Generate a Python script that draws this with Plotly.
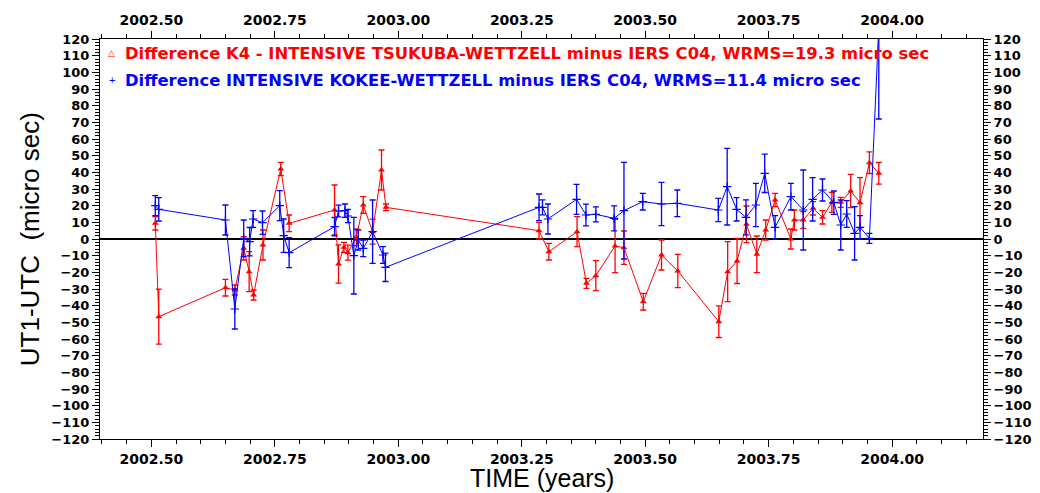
import plotly.graph_objects as go

# ---- data: K4 TSUKUBA-WETTZELL (red) ----
red_t = [2002.508, 2002.515, 2002.650, 2002.669, 2002.687, 2002.698, 2002.707, 2002.726,
         2002.762, 2002.779, 2002.871, 2002.879, 2002.890, 2002.898, 2002.915, 2002.929,
         2002.948, 2002.966, 2002.975, 2003.285, 2003.305, 2003.362, 2003.381, 2003.400,
         2003.439, 2003.457, 2003.496, 2003.533, 2003.566, 2003.649, 2003.667, 2003.686,
         2003.705, 2003.726, 2003.744, 2003.763, 2003.795, 2003.802, 2003.820, 2003.840,
         2003.859, 2003.878, 2003.896, 2003.916, 2003.935, 2003.954, 2003.973]
red_v = [9.4, -46.6, -29.2, -30.6, -5.6, -19.6, -33.6, -3.6,
         42.0, 9.4, 17.4, -15.0, -5.0, -8.2, 1.0, 20.4,
         4.4, 41.4, 19.0, 5.0, -7.6, 4.4, -26.6, -22.0,
         -4.2, -5.2, -37.6, -9.6, -19.2, -49.6, -19.6, -13.2,
         8.8, -9.2, 5.4, 23.4, 0.0, 11.4, 11.4, 18.4,
         13.0, 22.0, 22.0, 28.8, 21.8, 45.8, 39.4]
red_e = [4, 16.5, 5, 3, 7, 12, 3, 9,
         4, 5, 15, 11.5, 3, 4.5, 5, 5,
         7.5, 12, 2, 5, 5, 9, 3, 9,
         16, 10, 5, 9, 10, 9.5, 18, 13.5,
         11, 11, 6, 4, 6, 6, 5, 4,
         4, 6, 3, 10, 15, 6.5, 6.5]

# ---- data: KOKEE-WETTZELL (blue) ----
blue_t = [2002.508, 2002.515, 2002.650, 2002.669, 2002.687, 2002.699, 2002.706, 2002.725,
          2002.760, 2002.768, 2002.779, 2002.871, 2002.879, 2002.892, 2002.898, 2002.910,
          2002.919, 2002.929, 2002.948, 2002.969, 2002.974, 2003.285, 2003.292, 2003.303,
          2003.361, 2003.380, 2003.400, 2003.437, 2003.457, 2003.495, 2003.533, 2003.565,
          2003.648, 2003.666, 2003.685, 2003.704, 2003.724, 2003.742, 2003.763, 2003.795,
          2003.820, 2003.839, 2003.859, 2003.882, 2003.896, 2003.908, 2003.924, 2003.935,
          2003.954, 2003.973]
blue_v = [20.0, 17.8, 11.4, -42.0, 0.4, -1.6, 12.0, 9.8,
          20.0, 2.0, -8.2, 7.4, 16.8, 17.0, 13.8, -10.0,
          -0.6, -5.6, 4.4, -9.6, -17.0, 19.0, 19.0, 12.0,
          23.8, 14.4, 14.8, 12.4, 17.0, 22.4, 21.0, 21.4,
          17.4, 31.4, 17.8, 13.0, 20.4, 39.4, 7.0, 25.4,
          17.4, 23.8, 29.4, 21.8, 8.4, 15.0, 3.4, 7.0,
          0.4, 128.0]
blue_e = [6, 7, 9, 12, 11, 8.5, 5, 7,
          9, 10, 9, 5.5, 3.5, 4, 4, 23,
          6, 5, 19, 5, 8.5, 8, 4.5, 9,
          9, 6.5, 4.5, 7.5, 29, 5, 13, 8,
          7, 23, 7, 10.5, 13, 11.5, 7, 8,
          24, 13, 6.6, 7, 15, 8, 16, 7,
          3, 56]

x_ticks = [2002.50, 2002.75, 2003.00, 2003.25, 2003.50, 2003.75, 2004.00]
x_ticktext = ["2002.50", "2002.75", "2003.00", "2003.25", "2003.50", "2003.75", "2004.00"]
y_ticks = list(range(-120, 121, 10))

red_label = "Difference K4 - INTENSIVE TSUKUBA-WETTZELL minus IERS C04, WRMS=19.3 micro sec"
blue_label = "Difference INTENSIVE KOKEE-WETTZELL minus IERS C04, WRMS=11.4 micro sec"

RED = "#ff0000"
BLUE = "#0000ff"
FONT = "Liberation Sans, Arial, sans-serif"
WIDE = "DejaVu Sans, sans-serif"

fig = go.Figure()
fig.add_trace(go.Scatter(
    x=red_t, y=red_v, mode="lines+markers", name=red_label,
    line=dict(color=RED, width=1),
    marker=dict(symbol="triangle-up", size=6, color=RED),
    error_y=dict(type="data", array=red_e, color=RED, thickness=1.3, width=3),
    showlegend=False))
fig.add_trace(go.Scatter(
    x=blue_t, y=blue_v, mode="lines+markers", name=blue_label,
    line=dict(color=BLUE, width=1),
    marker=dict(symbol="cross-thin", size=6, color=BLUE, line=dict(color=BLUE, width=1.2)),
    error_y=dict(type="data", array=blue_e, color=BLUE, thickness=1.3, width=3),
    showlegend=False))
# invisible trace to activate top/right axes
fig.add_trace(go.Scatter(x=[2003.0], y=[0], xaxis="x2", yaxis="y2", mode="markers",
                         marker=dict(opacity=0), hoverinfo="skip", showlegend=False))

xr = [2002.396, 2004.184]
common_x = dict(range=xr, tickmode="array", tickvals=x_ticks, ticktext=x_ticktext,
                ticks="outside", ticklen=7, tickwidth=1, tickcolor="black",
                minor=dict(dtick=0.05, tick0=2002.5, ticks="outside", ticklen=4, tickcolor="black"),
                showline=True, linecolor="black", linewidth=1, showgrid=False, zeroline=False,
                automargin=False,
                tickfont=dict(family=WIDE, size=14, color="black", weight="bold"))
common_y = dict(range=[-120, 120], tickmode="array", tickvals=y_ticks,
                ticks="outside", ticklen=7, tickwidth=1, tickcolor="black",
                minor=dict(dtick=2, tick0=0, ticks="outside", ticklen=4, tickcolor="black"),
                showline=True, linecolor="black", linewidth=1, showgrid=False,
                automargin=False,
                tickfont=dict(family=WIDE, size=13, color="black", weight="bold"))

fig.update_layout(
    width=1040, height=493,
    margin=dict(l=100, r=57, t=39, b=54),
    paper_bgcolor="white", plot_bgcolor="white",
    font=dict(family=FONT, color="black"),
    xaxis=dict(**common_x, side="bottom"),
    xaxis2=dict(**common_x, side="top", overlaying="x", matches="x"),
    yaxis=dict(**common_y, side="left", zeroline=True, zerolinecolor="black", zerolinewidth=1.5),
    yaxis2=dict(**common_y, side="right", overlaying="y", matches="y", zeroline=False),
)

annotations = [
    dict(text="TIME (years)", x=0.5, y=-54 / 400, xref="paper", yref="paper",
         xanchor="center", yanchor="bottom", showarrow=False, borderpad=0,
         font=dict(family=FONT, size=25, color="black")),
    dict(text="UT1-UTC\u00a0 (micro sec)", x=-0.079, y=0.5, xref="paper", yref="paper",
         xanchor="center", yanchor="middle", textangle=-90, showarrow=False,
         font=dict(family=FONT, size=26, color="black")),
    dict(text="\u25b3", x=11.5 / 883, y=1 - 14 / 400, xref="paper", yref="paper",
         xanchor="center", yanchor="middle", showarrow=False,
         font=dict(family=FONT, size=9, color=RED)),
    dict(text="<b>" + red_label + "</b>", x=23 / 883, y=1 - 15 / 400, xref="paper", yref="paper",
         xanchor="left", yanchor="middle", showarrow=False,
         font=dict(family=WIDE, size=16.4, color=RED)),
    dict(text="+", x=11.5 / 883, y=1 - 41 / 400, xref="paper", yref="paper",
         xanchor="center", yanchor="middle", showarrow=False,
         font=dict(family=FONT, size=11, color=BLUE)),
    dict(text="<b>" + blue_label + "</b>", x=23 / 883, y=1 - 41 / 400, xref="paper", yref="paper",
         xanchor="left", yanchor="middle", showarrow=False,
         font=dict(family=WIDE, size=16.4, color=BLUE)),
]
fig.update_layout(annotations=annotations)

fig.write_html("out.html", config={"displayModeBar": False},
               post_script="document.body.style.margin='0';")
